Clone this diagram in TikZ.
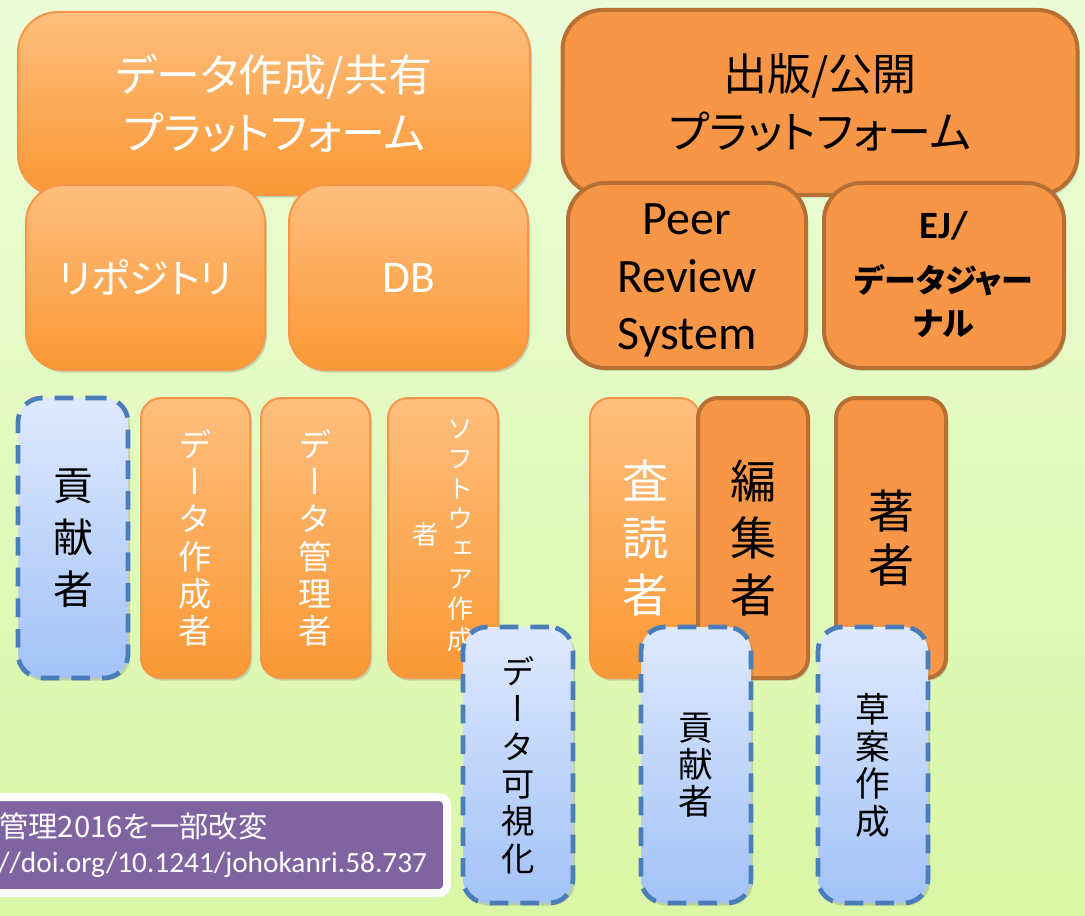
\documentclass[tikz,border=0pt]{standalone}
\usepackage{fontspec}
\setmainfont{Carlito}
\newfontfamily\jp[RawFeature=+palt]{Noto Sans CJK JP}
\newfontfamily\jpv[RawFeature=+vert]{Noto Sans CJK JP}
\usetikzlibrary{shadows}
\definecolor{bgtop}{RGB}{236,252,216}
\definecolor{bgbot}{RGB}{217,247,166}
\definecolor{ltop}{RGB}{254,190,125}
\definecolor{lbot}{RGB}{250,152,52}
\definecolor{lline}{RGB}{247,150,70}
\definecolor{dfill}{RGB}{247,150,70}
\definecolor{dline}{RGB}{182,112,52}
\definecolor{btop}{RGB}{222,233,253}
\definecolor{bbot}{RGB}{163,194,247}
\definecolor{bline}{RGB}{74,126,187}
\definecolor{citepurple}{RGB}{128,100,162}

\tikzset{
  boxsize/.style 2 args={minimum width=#1*0.75pt, minimum height=#2*0.75pt},
  boxshadow/.style={drop shadow={shadow xshift=1.5pt, shadow yshift=-2pt, opacity=.25, fill=black!60}},
  lightbox/.style={boxshadow, rounded corners=#1, draw=lline, line width=1.5pt,
    top color=ltop, bottom color=lbot, text=white, inner sep=0pt, align=center},
  lightbox/.default=15pt,
  darkbox/.style={boxshadow, rounded corners=#1, draw=dline, line width=3pt,
    fill=dfill, text=black, inner sep=0pt, align=center},
  darkbox/.default=15pt,
  bluebox/.style={boxshadow, rounded corners=18pt, draw=bline, line width=3.5pt,
    dash pattern=on 14pt off 9pt, top color=btop, bottom color=bbot,
    text=black, inner sep=0pt, align=center, boxsize={110}{276}},
  citetext/.style={text=white, inner sep=0pt, anchor=west}
}

\begin{document}
\begin{tikzpicture}[x=0.75pt, y=-0.75pt]
  % Background
  \useasboundingbox (0,0) rectangle (1085,916);
  \clip (0,0) rectangle (1085,916);
  \shade[top color=bgtop, bottom color=bgbot] (0,0) rectangle (1085,916);

  % Data platform
  \node[lightbox=30pt, boxsize={512}{183}, font=\jp\fontsize{33}{43.5}\selectfont] (dataplat) at (274,103.5) {データ作成/共有\\プラットフォーム};
  \node[lightbox=28pt, boxsize={239}{185}, font=\jp\fontsize{30}{36}\selectfont] (repo) at (145.5,277.5) {リポジトリ};
  \node[lightbox=28pt, boxsize={239}{185}, font=\fontsize{34}{40}\selectfont] (db) at (408.5,277.5) {DB};

  % Publishing platform
  \node[darkbox=30pt, boxsize={515}{185}, font=\jp\fontsize{33}{43.5}\selectfont] (pubplat) at (820,102.5) {出版/公開\\プラットフォーム};
  \node[darkbox=28pt, boxsize={238}{185}, font=\fontsize{36}{43}\selectfont] (peer) at (687,275.5) {\raisebox{-4pt}[\height][\depth]{\begin{tabular}{@{}c@{}}Peer\\Review\\System\end{tabular}}};
  \node[darkbox=28pt, boxsize={240}{185}, font=\fontsize{24}{32}\selectfont\bfseries] (ej) at (944,275.5) {\raisebox{-2pt}[\height][\depth]{\begin{tabular}{@{}c@{}}{\fontsize{29}{32}\selectfont EJ/}\\[9pt]{\jp データジャー}\\{\jp ナル}\end{tabular}}};

  % Roles
  \node[bluebox, boxsize={110}{280}, font=\jpv\fontsize{30}{39}\selectfont] (contriba) at (73,538) {貢\\献\\者};
  \node[lightbox, boxsize={109}{280}, font=\jpv\fontsize{25}{28}\selectfont] (creator) at (195.5,538) {デ\\ー\\タ\\作\\成\\者};
  \node[lightbox, boxsize={109}{280}, font=\jpv\fontsize{25}{28}\selectfont] (manager) at (315.5,538) {デ\\ー\\タ\\管\\理\\者};
  \node[lightbox, boxsize={110}{280}, font=\jpv\fontsize{19.5}{22.5}\selectfont] (software) at (443,538)
    {\begin{tabular}{@{}c@{}}者\end{tabular}\hspace{6.5pt}\begin{tabular}{@{}c@{}}ソ\\フ\\ト\\ウ\\ェ\\ア\\作\\成\end{tabular}};
  \node[lightbox, boxsize={110}{280}, font=\jpv\fontsize{34.5}{43}\selectfont] (reviewer) at (645,538) {査\\読\\者};
  \node[darkbox, boxsize={110}{280}, font=\jpv\fontsize{34.5}{43}\selectfont] (editor) at (753,538) {編\\集\\者};
  \node[darkbox, boxsize={110}{280}, font=\jpv\fontsize{34.5}{41}\selectfont] (author) at (891,538) {著\\者};

  % Contributions
  \node[bluebox, font=\jpv\fontsize{25}{28}\selectfont] (visual) at (518,765) {デ\\ー\\タ\\可\\視\\化};
  \node[bluebox, font=\jpv\fontsize{26}{28}\selectfont] (contribb) at (696,765) {貢\\献\\者};
  \node[bluebox, font=\jpv\fontsize{26}{28}\selectfont] (draft) at (873,765) {草\\案\\作\\成};

  % Source
  \node[boxshadow, draw=white, line width=6pt, fill=citepurple, rounded corners=6pt, boxsize={487}{96}] (cite) at (203.5,845) {};
  \node[citetext, font=\jp\fontsize{22}{26}\selectfont] (citea) at (-1,826) {管理2016を一部改変};
  \node[citetext, font=\fontsize{22}{26}\selectfont] (citeb) at (-2,865) {//doi.org/10.1241/johokanri.58.737};
\end{tikzpicture}
\end{document}
